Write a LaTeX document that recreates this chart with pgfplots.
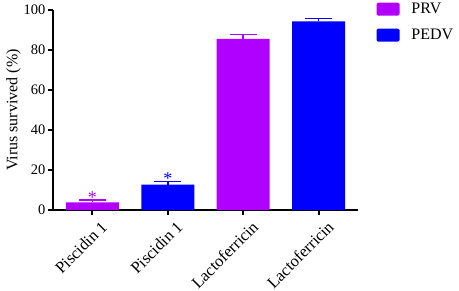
\documentclass[border=0pt]{standalone}
\usepackage{pgfplots}
\pgfplotsset{compat=1.18}
\usepackage{fontspec}
\setmainfont{Liberation Serif}
\definecolor{prv}{RGB}{176,0,255}
\definecolor{pedv}{RGB}{0,0,255}
\begin{document}
\begin{tikzpicture}
\begin{axis}[
  scale only axis,
  width=305bp, height=200bp,
  xmin=-0.52, xmax=3.52,
  ymin=0, ymax=100,
  axis x line*=bottom, axis y line*=left,
  axis line style={line width=1.6bp, -},
  xtick={0,1,2,3},
  xticklabels={Piscidin 1,Piscidin 1,Lactoferricin,Lactoferricin},
  ytick={0,20,40,60,80,100},
  tick style={line width=1.6bp, black},
  tick align=outside,
  major tick length=5bp,
  /pgf/number format/assume math mode=true,
  yticklabel style={font=\fontsize{14.5bp}{16bp}\selectfont, xshift=1bp},
  xticklabel style={font=\fontsize{16.5bp}{18bp}\selectfont, rotate=45, anchor=north east, inner sep=1bp, xshift=3bp, yshift=-8bp},
  ylabel={Virus survived (\%)},
  ylabel style={font=\fontsize{16bp}{18bp}\selectfont, yshift=-4bp},
  ybar, bar width=53bp, bar shift=0bp,
  legend cell align=left,
  legend style={draw=none, fill=none, at={(1.06,1.045)}, anchor=north west,
    font=\fontsize{16bp}{18bp}\selectfont, row sep=10bp, column sep=10bp, inner sep=0pt},
  legend image code/.code={\fill[#1, draw=none, rounded corners=1.5bp] (0bp,-6.5bp) rectangle (23bp,6.5bp);},
  clip=false,
]
\addplot[fill=prv, draw=none,
  error bars/.cd, y dir=plus, y explicit,
  error bar style={line width=1.5bp, prv},
  error mark options={rotate=90, mark size=13.5bp, line width=1.5bp, prv}]
  coordinates {(0,3.8) +- (0,1.2) (2,85.5) +- (0,2.2)};
\addlegendentry{PRV}
\addplot[fill=pedv, draw=none,
  error bars/.cd, y dir=plus, y explicit,
  error bar style={line width=1.5bp, pedv},
  error mark options={rotate=90, mark size=13.5bp, line width=1.5bp, pedv}]
  coordinates {(1,12.7) +- (0,1.5) (3,94.3) +- (0,1.5)};
\addlegendentry{PEDV}
\addplot[forget plot, draw=none, mark=none, fill=none, bar width=0bp,
  nodes near coords={*},
  every node near coord/.append style={prv, font=\fontsize{18bp}{18bp}\selectfont, anchor=base, yshift=-3bp}]
  coordinates {(0,5)};
\addplot[forget plot, draw=none, mark=none, fill=none, bar width=0bp,
  nodes near coords={*},
  every node near coord/.append style={pedv, font=\fontsize{18bp}{18bp}\selectfont, anchor=base, yshift=-3bp}]
  coordinates {(1,14.2)};
\end{axis}
\pgfresetboundingbox
\path[use as bounding box] (-53bp,-81bp) rectangle (406bp,210bp);
\end{tikzpicture}
\end{document}
